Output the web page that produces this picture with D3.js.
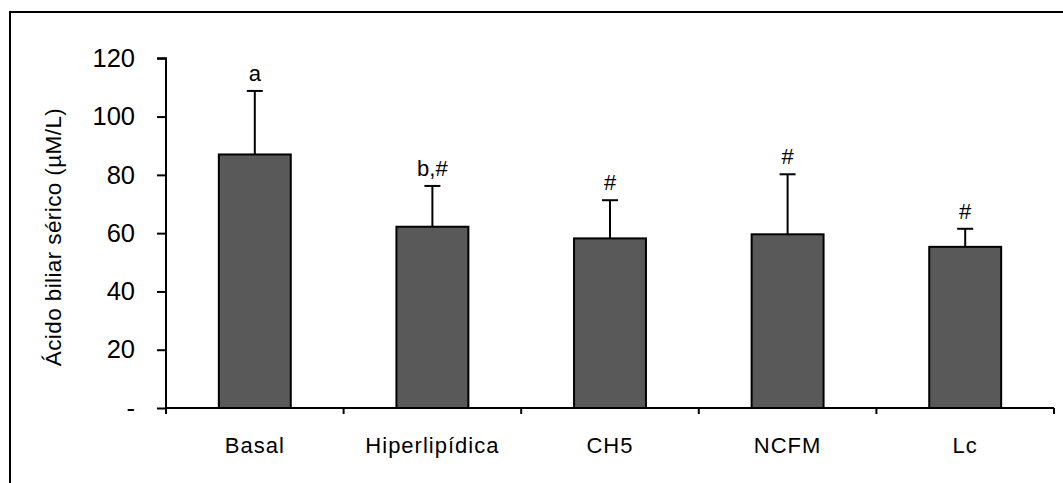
<!DOCTYPE html>
<html>
<head>
<meta charset="utf-8">
<script src="https://cdnjs.cloudflare.com/ajax/libs/d3/7.8.5/d3.min.js"></script>
<style>
  body { margin: 0; background: #fff; }
  svg text { font-family: "Liberation Sans", Arial, sans-serif; fill: #000; }
</style>
</head>
<body>
<script>
// Chart data
var groups = ["Basal", "Hiperlipídica", "CH5", "NCFM", "Lc"];
var means = [87, 62.2, 58.2, 59.6, 55.3];
var errors = [21.8, 14, 13.1, 20.6, 6.2];
var letters = ["a", "b,#", "#", "#", "#"];
var yTicks = [0, 20, 40, 60, 80, 100, 120];
var yTitle = "Ácido biliar sérico (µM/L)";

var svgWidth = 1063;
var svgHeight = 483;

var svg = d3.select("body")
  .append("svg")
  .attr("width", svgWidth)
  .attr("height", svgHeight);

// outer frame (right and bottom edges fall off the picture)
svg.append("rect")
  .attr("x", 10)
  .attr("y", 12)
  .attr("width", 1060)
  .attr("height", 490)
  .attr("fill", "none")
  .attr("stroke", "#000")
  .attr("stroke-width", 2);

// plot area
var plotLeft = 166, plotRight = 1054, plotTop = 58.3, plotBottom = 408;

var xScale = d3.scaleBand()
  .domain(groups)
  .range([plotLeft, plotRight])
  .paddingInner(0.595)
  .paddingOuter(0.2975);

var xOuter = d3.scaleBand()
  .domain(groups)
  .range([plotLeft, plotRight]);

var yScale = d3.scaleLinear()
  .domain([0, 120])
  .range([plotBottom, plotTop]);

// y axis
var leftAxis = d3.axisLeft(yScale)
  .tickValues(yTicks)
  .tickSize(9)
  .tickPadding(22)
  .tickFormat(d => d === 0 ? "-" : d);

var yAxisG = svg.append("g")
  .attr("transform", `translate(${plotLeft}, 0)`)
  .call(leftAxis);
yAxisG.select(".domain").attr("d", `M-9,${plotTop}H0V${plotBottom}`);
yAxisG.selectAll("line, path").attr("stroke", "#000").attr("stroke-width", 2);
yAxisG.selectAll("text")
  .attr("font-size", 25.5)
  .attr("font-family", "Liberation Sans, Arial, sans-serif");

// x axis: ticks sit on the category boundaries
var boundaries = groups.map(g => xOuter(g)).concat([plotRight]);
var xAxisG = svg.append("g");
xAxisG.append("line")
  .attr("x1", plotLeft).attr("x2", plotRight)
  .attr("y1", plotBottom).attr("y2", plotBottom)
  .attr("stroke", "#000").attr("stroke-width", 2);
xAxisG.selectAll(".xtick")
  .data(boundaries)
  .enter()
  .append("line")
  .attr("x1", d => d).attr("x2", d => d)
  .attr("y1", plotBottom).attr("y2", plotBottom + 6)
  .attr("stroke", "#000").attr("stroke-width", 2);
xAxisG.selectAll(".xlabel")
  .data(groups)
  .enter()
  .append("text")
  .attr("x", d => xOuter(d) + xOuter.bandwidth() / 2)
  .attr("y", 453)
  .attr("text-anchor", "middle")
  .attr("font-size", 22)
  .attr("letter-spacing", 1)
  .text(d => d);

// error bars (drawn first so bars sit over them)
var barData = groups.map((g, i) => ({ g: g, m: means[i], e: errors[i], l: letters[i] }));

svg.selectAll(".err")
  .data(barData)
  .enter()
  .append("line")
  .attr("x1", d => xScale(d.g) + xScale.bandwidth() / 2)
  .attr("x2", d => xScale(d.g) + xScale.bandwidth() / 2)
  .attr("y1", d => yScale(d.m))
  .attr("y2", d => yScale(d.m + d.e))
  .attr("stroke", "#000").attr("stroke-width", 2);

svg.selectAll(".cap")
  .data(barData)
  .enter()
  .append("line")
  .attr("x1", d => xScale(d.g) + xScale.bandwidth() / 2 - 8)
  .attr("x2", d => xScale(d.g) + xScale.bandwidth() / 2 + 8)
  .attr("y1", d => yScale(d.m + d.e))
  .attr("y2", d => yScale(d.m + d.e))
  .attr("stroke", "#000").attr("stroke-width", 2);

// bars
svg.selectAll(".bar")
  .data(barData)
  .enter()
  .append("rect")
  .attr("x", d => xScale(d.g))
  .attr("y", d => yScale(d.m))
  .attr("width", xScale.bandwidth())
  .attr("height", d => yScale(0) - yScale(d.m))
  .attr("fill", "#595959")
  .attr("stroke", "#000")
  .attr("stroke-width", 2);

// significance letters
svg.selectAll(".sig")
  .data(barData)
  .enter()
  .append("text")
  .attr("x", d => xScale(d.g) + xScale.bandwidth() / 2)
  .attr("y", d => yScale(d.m + d.e) - 10)
  .attr("text-anchor", "middle")
  .attr("font-size", 22)
  .text(d => d.l);

// y axis title
svg.append("text")
  .attr("transform", `translate(61, ${237}) rotate(-90)`)
  .attr("text-anchor", "middle")
  .attr("font-size", 22.5)
  .attr("letter-spacing", 0.4)
  .text(yTitle);
</script>
</body>
</html>
